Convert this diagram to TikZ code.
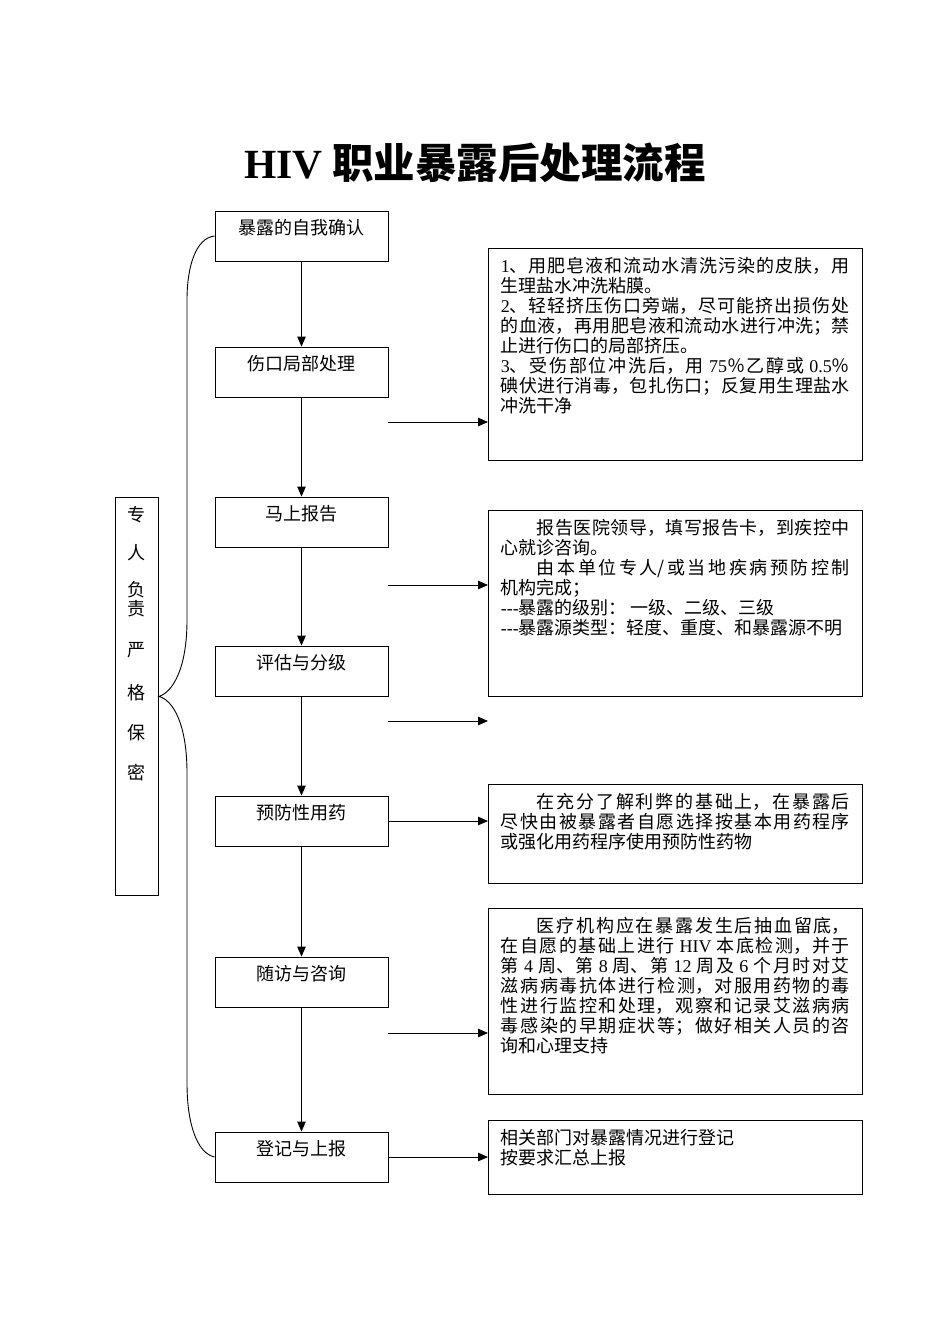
\documentclass[tikz,border=0pt]{standalone}
\usepackage{fontspec}
\setmainfont{Noto Sans CJK SC}
\newfontfamily\lat{Liberation Serif}
\usetikzlibrary{arrows.meta}
\XeTeXlinebreaklocale "zh"
\XeTeXlinebreakskip=0pt plus 3pt
\tolerance=9999
\hbadness=10000
\newcommand\rtext[2]{\parbox[t][#1][t]{349pt}{\fontsize{18}{20}\selectfont #2}}
\newcommand\ind{\hspace*{36pt}}
\begin{document}
\begin{tikzpicture}[x=1pt,y=-1pt,
  every node/.style={font=\fontsize{18}{20}\selectfont},
  lbox/.style={draw, line width=0.9pt, minimum width=173pt, inner sep=0pt, text height=23pt, text depth=27pt},
  rbox/.style={draw, line width=0.9pt, inner xsep=12.5pt, inner ysep=8.5pt, anchor=north west},
  arr/.style={line width=0.9pt, -{Triangle[length=10pt,width=8.5pt]}},
  conn/.style={line width=0.9pt}]
\useasboundingbox (0,0) rectangle (950,1344);
\fill[white] (0,0) rectangle (950,1344);

% title
\node[font=\fontsize{41.5}{44}\selectfont\bfseries] (title) at (475,163) {{\lat HIV} 职业暴露后处理流程};

% left process boxes
\node[lbox] (b1) at (301.5,236) {暴露的自我确认};
\node[lbox] (b2) at (301.5,372) {伤口局部处理};
\node[lbox] (b3) at (301.5,522) {马上报告};
\node[lbox] (b4) at (301.5,671) {评估与分级};
\node[lbox] (b5) at (301.5,821) {预防性用药};
\node[lbox] (b6) at (301.5,982) {随访与咨询};
\node[lbox] (b7) at (301.5,1157) {登记与上报};

% side box
\node[draw, line width=0.9pt, anchor=north west, inner sep=0pt] (side) at (115,497)
  {\parbox[t][398pt][t]{43pt}{\centering\fontsize{18}{19}\selectfont\vspace*{9pt}专\\[19pt]人\\[18pt]负\\责\\[22pt]严\\[24pt]格\\[21pt]保\\[21pt]密}};

% right text boxes
\node[rbox] (r1) at (488,248) {\rtext{195pt}{{\lat 1}、用肥皂液和流动水清洗污染的皮肤，用\linebreak 生理盐水冲洗粘膜。\par
{\lat 2}、轻轻挤压伤口旁端，尽可能挤出损伤处\linebreak 的血液，再用肥皂液和流动水进行冲洗；禁\linebreak 止进行伤口的局部挤压。\par
{\lat 3}、受伤部位冲洗后，用 {\lat 75}％乙醇或 {\lat 0.5}％\linebreak 碘伏进行消毒，包扎伤口；反复用生理盐水\linebreak 冲洗干净}};

\node[rbox] (r2) at (488,510) {\rtext{169pt}{\ind 报告医院领导，填写报告卡，到疾控中\linebreak 心就诊咨询。\par
\ind 由本单位专人/或当地疾病预防控制\linebreak 机构完成；\par
{\lat ---}暴露的级别：\hspace{4pt}一级、二级、三级\par
{\lat ---}暴露源类型：轻度、重度、和暴露源不明}};

\node[rbox] (r3) at (488,784) {\rtext{82pt}{\ind 在充分了解利弊的基础上，在暴露后\linebreak 尽快由被暴露者自愿选择按基本用药程序\linebreak 或强化用药程序使用预防性药物}};

\node[rbox] (r4) at (488,908) {\rtext{169pt}{\ind 医疗机构应在暴露发生后抽血留底，\linebreak 在自愿的基础上进行 {\lat HIV} 本底检测，并于\linebreak 第 {\lat 4} 周、第 {\lat 8} 周、第 {\lat 12} 周及 {\lat 6} 个月时对艾\linebreak 滋病病毒抗体进行检测，对服用药物的毒\linebreak 性进行监控和处理，观察和记录艾滋病病\linebreak 毒感染的早期症状等；做好相关人员的咨\linebreak 询和心理支持}};

\node[rbox] (r5) at (488,1120) {\rtext{57pt}{相关部门对暴露情况进行登记\par 按要求汇总上报}};

% vertical flow arrows
\draw[arr] (b1) -- (b2);
\draw[arr] (b2) -- (b3);
\draw[arr] (b3) -- (b4);
\draw[arr] (b4) -- (b5);
\draw[arr] (b5) -- (b6);
\draw[arr] (b6) -- (b7);

% horizontal arrows
\coordinate (a2) at (388,422);
\coordinate (a3) at (388,585);
\coordinate (a4) at (388,721);
\coordinate (a6) at (388,1033);
\draw[arr] (a2) -- (a2 -| r1.west);
\draw[arr] (a3) -- (a3 -| r2.west);
\draw[arr] (a4) -- (a4 -| r2.west);
\draw[arr] (b5.east) -- (b5.east -| r3.west);
\draw[arr] (a6) -- (a6 -| r4.west);
\draw[arr] (b7.east) -- (b7.east -| r5.west);

% brace
\coordinate (s1) at (187,300);
\coordinate (s2) at (187,620);
\coordinate (s3) at (187,773);
\coordinate (s4) at (187,1083);
\draw[conn] (b1.west) .. controls (196,238) and (187,266) .. (s1) -- (s2)
  .. controls (187,668) and (173,692) .. (side.east)
  .. controls (173,700) and (187,724) .. (s3) -- (s4)
  .. controls (187,1124) and (197,1153) .. (b7.west);
\end{tikzpicture}
\end{document}
